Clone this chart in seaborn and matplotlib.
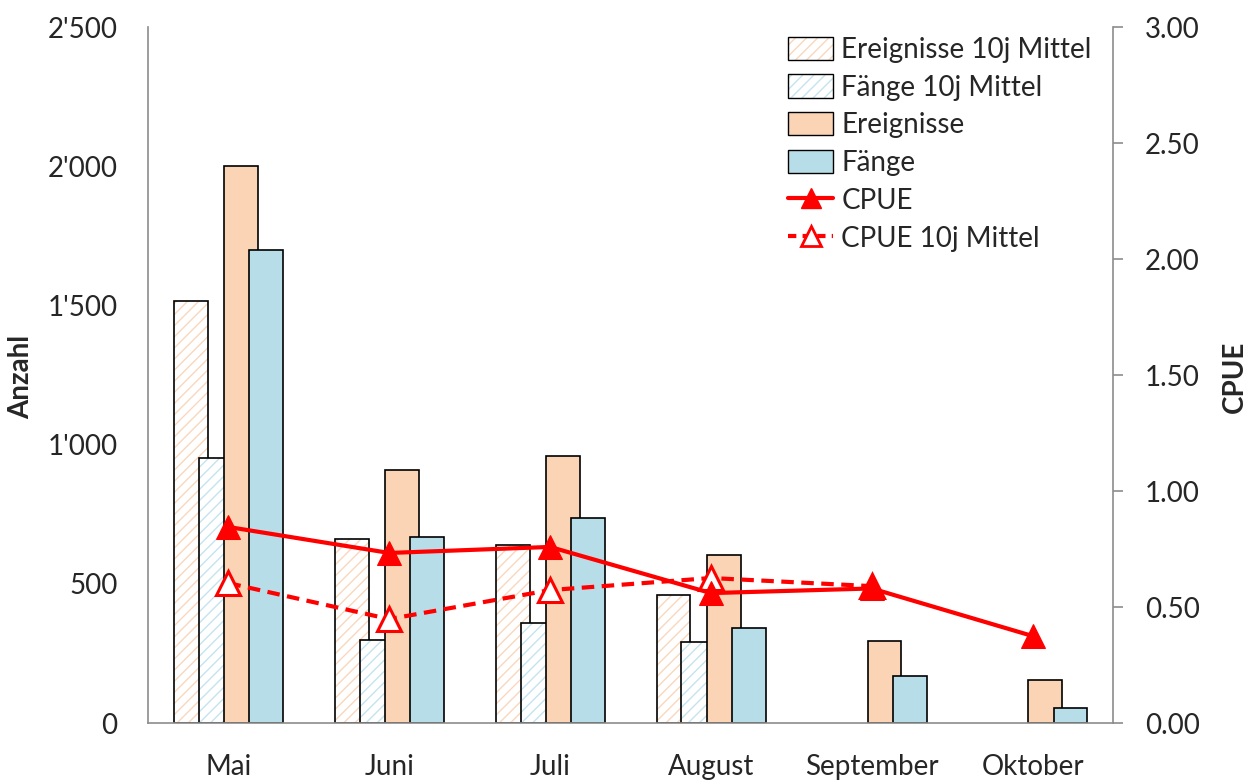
import numpy as np
import pandas as pd
import matplotlib
matplotlib.use("Agg")
import matplotlib.pyplot as plt
import matplotlib.colors as mcolors
from matplotlib.patches import Patch
from matplotlib.lines import Line2D
from matplotlib.ticker import FuncFormatter, MultipleLocator
import seaborn as sns

# Monthly data
months = ["Mai", "Juni", "Juli", "August", "September", "Oktober"]
ereignisse = [2000, 909, 959, 603, 294, 154]
faenge = [1700, 668, 736, 341, 169, 54]
ereignisse_10j = [1516, 661, 639, 460]
faenge_10j = [952, 298, 359, 291]
cpue = [0.845, 0.733, 0.759, 0.56, 0.58, 0.375]
cpue_10j = [0.603, 0.448, 0.573, 0.625, 0.59]

sns.set_theme(style="white")
plt.rcParams["font.family"] = ["Lato", "DejaVu Sans"]
plt.rcParams["hatch.linewidth"] = 1.0

c_ereig = "#FAD4B4"
c_faenge = "#B7DEE8"
c_ereig_h = "#F9D7BC"
c_faenge_h = "#C4E4ED"
spine_c = "#8C8C8C"
fs = 20
hatch = "///"

fig = plt.figure(figsize=(12.51, 7.83), dpi=100)
ax = fig.add_axes([0.1183, 0.0766, 0.7714, 0.8889])

width = 0.21
offsets = [-0.232, -0.078, 0.079, 0.236]


def set_hatch_color(patch, color):
    if hasattr(patch, "set_hatchcolor"):
        patch.set_hatchcolor(color)
    else:
        patch._hatch_color = mcolors.to_rgba(color)


def hatched_bars(xpos, vals, hcolor):
    n0 = len(ax.patches)
    sns.barplot(x=xpos, y=vals, native_scale=True, orient="x", width=width,
                color="white", edgecolor="black", linewidth=1.2, hatch=hatch,
                saturation=1, ax=ax)
    for p in ax.patches[n0:]:
        p.set_facecolor("white")
        set_hatch_color(p, hcolor)


def solid_bars(xpos, vals, color):
    sns.barplot(x=xpos, y=vals, native_scale=True, orient="x", width=width,
                color=color, edgecolor="black", linewidth=1.2,
                saturation=1, ax=ax)


idx6 = np.arange(len(months))
idx4 = np.arange(len(ereignisse_10j))
hatched_bars(idx4 + offsets[0], ereignisse_10j, c_ereig_h)
hatched_bars(idx4 + offsets[1], faenge_10j, c_faenge_h)
solid_bars(idx6 + offsets[2], ereignisse, c_ereig)
solid_bars(idx6 + offsets[3], faenge, c_faenge)

ax.set_xlim(-0.5, 5.5)
ax.set_ylim(0, 2500)
ax.yaxis.set_major_locator(MultipleLocator(500))
ax.yaxis.set_major_formatter(FuncFormatter(lambda v, _: f"{v:,.0f}".replace(",", "'")))
ax.set_xticks(idx6)
ax.set_xticklabels(months, fontsize=fs)
ax.tick_params(axis="x", length=0, pad=22)
ax.tick_params(axis="y", length=0, pad=22, labelsize=fs)
ax.set_ylabel("Anzahl", fontsize=fs, fontweight="bold")
ax.yaxis.set_label_coords(-0.118, 0.497)
ax.set_xlabel("")
for s in ["top", "right"]:
    ax.spines[s].set_visible(False)
for s in ["left", "bottom"]:
    ax.spines[s].set_color(spine_c)
    ax.spines[s].set_linewidth(1.2)

ax2 = ax.twinx()
sns.lineplot(x=idx6[:len(cpue_10j)], y=cpue_10j, ax=ax2, color="red",
             linewidth=3, linestyle=(0, (3, 1.8)), marker="^", markersize=17,
             markerfacecolor="white", markeredgecolor="red", markeredgewidth=2.2)
sns.lineplot(x=idx6, y=cpue, ax=ax2, color="red", linewidth=3,
             marker="^", markersize=17, markerfacecolor="red",
             markeredgecolor="red")
ax2.set_ylim(0, 3.0)
ax2.set_xlim(-0.5, 5.5)
ax2.yaxis.set_major_locator(MultipleLocator(0.5))
ax2.yaxis.set_major_formatter(FuncFormatter(lambda v, _: f"{v:.2f}"))
ax2.tick_params(axis="y", right=True, length=7, width=1.2, color=spine_c,
                direction="out", pad=16, labelsize=fs)
ax2.set_ylabel("CPUE", fontsize=fs, fontweight="bold")
ax2.yaxis.set_label_coords(1.113, 0.497)
for s in ["top", "left", "bottom"]:
    ax2.spines[s].set_visible(False)
ax2.spines["right"].set_color(spine_c)
ax2.spines["right"].set_linewidth(1.2)

handles = [
    Patch(facecolor="white", edgecolor="black", hatch=hatch, label="Ereignisse 10j Mittel"),
    Patch(facecolor="white", edgecolor="black", hatch=hatch, label="Fänge 10j Mittel"),
    Patch(facecolor=c_ereig, edgecolor="black", label="Ereignisse"),
    Patch(facecolor=c_faenge, edgecolor="black", label="Fänge"),
    Line2D([], [], color="red", linewidth=3, marker="^", markersize=14,
           markerfacecolor="red", label="CPUE"),
    Line2D([], [], color="red", linewidth=3, linestyle=(0, (2, 1.5)), marker="^",
           markersize=14, markerfacecolor="white", markeredgewidth=2,
           label="CPUE 10j Mittel"),
]
leg = ax2.legend(handles=handles, loc="upper right", bbox_to_anchor=(0.995, 1.01),
                 frameon=False, fontsize=fs, handlelength=1.6, handleheight=0.9,
                 handletextpad=0.3, labelspacing=0.42, borderaxespad=0.2)
for h, hc in zip(leg.get_patches()[:2], [c_ereig_h, c_faenge_h]):
    set_hatch_color(h, hc)

fig.savefig("out.png", dpi=100, facecolor="white")
